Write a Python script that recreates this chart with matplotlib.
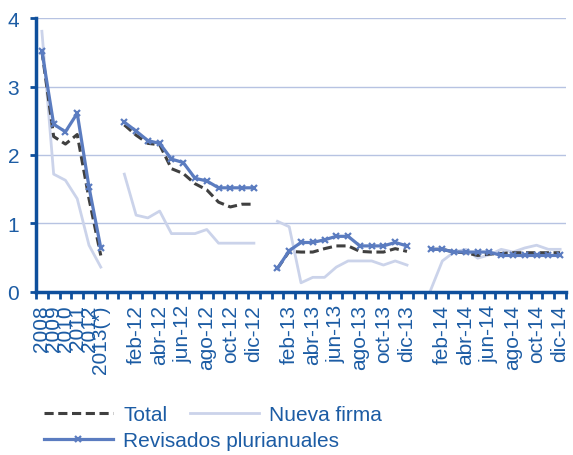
import matplotlib
matplotlib.use("Agg")
import matplotlib.pyplot as plt
import numpy as np

plt.rcParams['font.family'] = ['Liberation Sans', 'DejaVu Sans']

# categories: years, gap, 2012 months, gap, 2013 months, gap, 2014 months
years = ["2008", "2009", "2010", "2011", "2012", "2013(*)"]
months = ["ene", "feb", "mar", "abr", "may", "jun",
          "jul", "ago", "sep", "oct", "nov", "dic"]

# series values per block (years, 2012, 2013, 2014)
total_years = [3.52, 2.27, 2.16, 2.30, 1.36, 0.53]
total_12 = [2.44, 2.29, 2.17, 2.15, 1.80, 1.73, 1.58, 1.49, 1.31, 1.24, 1.28, 1.28]
total_13 = [0.34, 0.59, 0.58, 0.58, 0.63, 0.67, 0.67, 0.59, 0.58, 0.58, 0.63, 0.59]
total_14 = [0.62, 0.62, 0.58, 0.57, 0.53, 0.55, 0.56, 0.57, 0.57, 0.57, 0.57, 0.57]

nueva_years = [3.81, 1.72, 1.63, 1.36, 0.68, 0.36]
nueva_12 = [1.72, 1.12, 1.08, 1.18, 0.85, 0.85, 0.85, 0.91, 0.71, 0.71, 0.71, 0.71]
nueva_13 = [1.03, 0.95, 0.13, 0.21, 0.21, 0.36, 0.45, 0.45, 0.45, 0.39, 0.45, 0.39]
nueva_14 = [0.02, 0.45, 0.58, 0.62, 0.49, 0.54, 0.62, 0.58, 0.64, 0.68, 0.62, 0.62]

revis_years = [3.52, 2.45, 2.34, 2.61, 1.53, 0.64]
revis_12 = [2.48, 2.35, 2.21, 2.17, 1.94, 1.89, 1.66, 1.62, 1.52, 1.52, 1.52, 1.52]
revis_13 = [0.34, 0.60, 0.72, 0.72, 0.76, 0.81, 0.81, 0.67, 0.67, 0.67, 0.72, 0.67]
revis_14 = [0.62, 0.62, 0.58, 0.58, 0.58, 0.58, 0.53, 0.53, 0.53, 0.53, 0.53, 0.53]


def join(a, b, c, d):
    gap = [np.nan]
    return np.array(list(a) + gap + list(b) + gap + list(c) + gap + list(d))


# only every other month is labelled on the axis
labels = years + [""]
for yy in ["12", "13", "14"]:
    labels += [m + "-" + yy if i % 2 == 1 else "" for i, m in enumerate(months)]
    if yy != "14":
        labels += [""]

total = join(total_years, total_12, total_13, total_14)
nueva = join(nueva_years, nueva_12, nueva_13, nueva_14)
revis = join(revis_years, revis_12, revis_13, revis_14)
x = np.arange(len(labels))

axis_col = "#0E4F9C"
text_col = "#1C5CA4"

fig = plt.figure(figsize=(5.73, 4.56), dpi=100)
ax = fig.add_axes([36 / 573, 1 - 292.7 / 456, 530 / 573, 273.4 / 456])

l_tot, = ax.plot(x, total, color="#404040", lw=2.2, dashes=(3.0, 1.5), label="Total", zorder=3)
l_new, = ax.plot(x, nueva, color="#CBD3EA", lw=2, label="Nueva firma", zorder=2)
l_rev, = ax.plot(x, revis, color="#5B7CC0", lw=2.3, marker="x", ms=5, mew=1.6,
                 label="Revisados plurianuales", zorder=4)

ax.set_xlim(-0.5, len(labels) - 0.5)
ax.set_ylim(0, 4)
ax.set_yticks([0, 1, 2, 3, 4])
ax.yaxis.grid(True, color="#B7C3E2", lw=1)
ax.set_axisbelow(True)

ax.set_xticks(x)
ax.set_xticklabels(labels, rotation=90, fontsize=15, color=text_col)
ax.tick_params(axis="x", which="major", length=0, pad=9)
ax.set_xticks(np.arange(len(labels) + 1) - 0.5, minor=True)
ax.tick_params(axis="x", which="minor", length=5, width=2, color=axis_col, direction="out")
ax.tick_params(axis="y", length=4, width=2, color=axis_col, labelsize=15,
               labelcolor=text_col, pad=8)

for s in ["top", "right"]:
    ax.spines[s].set_visible(False)
for s in ["left", "bottom"]:
    ax.spines[s].set_color(axis_col)
    ax.spines[s].set_linewidth(2.5)

leg_kw = dict(frameon=False, fontsize=15, handlelength=3.3, handletextpad=0.5,
              columnspacing=1.1, borderaxespad=0, borderpad=0)
leg1 = fig.legend([l_tot, l_new], ["Total", "Nueva firma"], loc="upper left",
                  bbox_to_anchor=(44 / 573, 1 - 406 / 456), ncol=2, **leg_kw)
leg2 = fig.legend([l_rev], ["Revisados plurianuales"], loc="upper left",
                  bbox_to_anchor=(44 / 573, 1 - 432 / 456), **leg_kw)
for lg in (leg1, leg2):
    for t in lg.get_texts():
        t.set_color(text_col)

fig.savefig("out.png", dpi=100)
